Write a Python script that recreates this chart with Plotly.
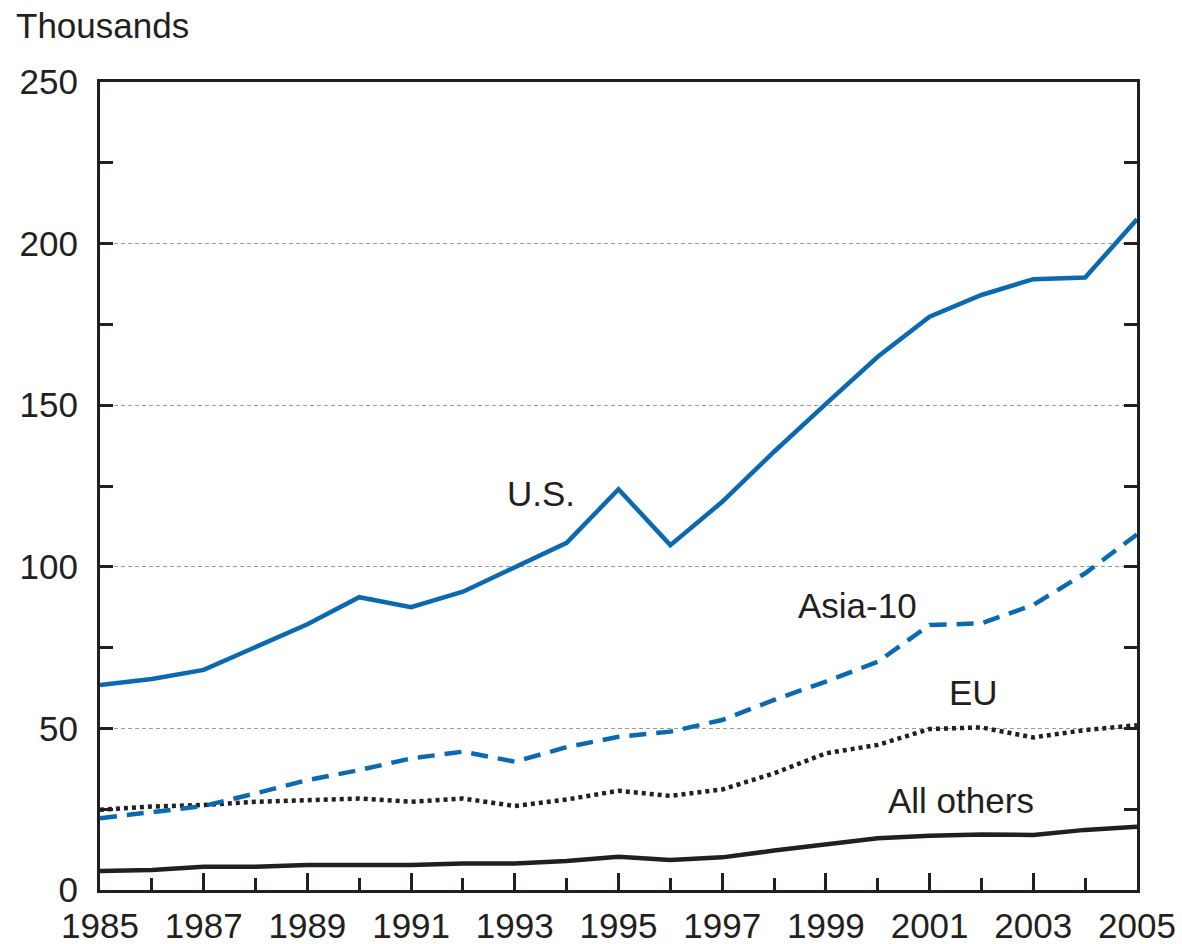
import plotly.graph_objects as go

years = list(range(1985, 2006))
us = [63.4, 65.3, 68.1, 75.3, 82.2, 90.6, 87.5, 92.3, 100.0, 107.4, 124.0,
      106.7, 120.1, 135.6, 150.4, 165.0, 177.4, 184.1, 189.0, 189.5, 207.5]
asia10 = [22.2, 24.2, 26.0, 29.9, 34.0, 37.1, 40.7, 42.8, 39.7, 44.2, 47.4,
          49.0, 52.6, 58.8, 64.5, 70.6, 82.0, 82.5, 88.2, 98.0, 110.0]
eu = [24.8, 25.8, 26.3, 27.3, 27.8, 28.3, 27.3, 28.3, 26.0, 28.0, 30.7,
      29.1, 31.1, 36.1, 42.3, 44.9, 49.8, 50.3, 47.2, 49.5, 51.0]
others = [5.9, 6.2, 7.2, 7.2, 7.7, 7.7, 7.7, 8.2, 8.2, 9.0, 10.3,
          9.3, 10.1, 12.2, 14.2, 16.0, 16.8, 17.2, 17.0, 18.6, 19.6]

labels = ["U.S.", "Asia-10", "EU", "All others"]
label_x = [1993.5, 1999.6, 2001.85, 2001.6]
label_y = [122.8, 87.9, 61.0, 27.8]

BLUE = "#0a69b1"
DARK = "#231f20"
FONT = "Liberation Sans, Arial, Helvetica, sans-serif"
FS = 35

fig = go.Figure()
fig.add_trace(go.Scatter(x=years, y=others, mode="lines",
                         line=dict(color=DARK, width=4.5), name="All others"))
fig.add_trace(go.Scatter(x=years, y=eu, mode="lines",
                         line=dict(color=DARK, width=4.5, dash="4px,4px"), name="EU"))
fig.add_trace(go.Scatter(x=years, y=asia10, mode="lines",
                         line=dict(color=BLUE, width=4.5, dash="17px,10px"), name="Asia-10"))
fig.add_trace(go.Scatter(x=years, y=us, mode="lines",
                         line=dict(color=BLUE, width=4.5), name="U.S."))

for t, x, y in zip(labels, label_x, label_y):
    fig.add_annotation(x=x, y=y, text=t, showarrow=False,
                       font=dict(size=FS, color=DARK, family=FONT),
                       xanchor="center", yanchor="middle")

fig.add_annotation(xref="paper", yref="paper", x=-0.083, y=1.097,
                   text="Thousands", showarrow=False,
                   font=dict(size=FS, color=DARK, family=FONT),
                   xanchor="left", yanchor="top")

fig.update_layout(
    width=1182, height=944,
    margin=dict(l=100, r=45, t=82, b=54, autoexpand=False),
    paper_bgcolor="white", plot_bgcolor="white",
    showlegend=False,
    font=dict(family=FONT, color=DARK, size=FS),
)
fig.update_xaxes(
    range=[1985, 2005], tick0=1985, dtick=2, automargin=False,
    showgrid=False, zeroline=False,
    showline=True, linecolor=DARK, linewidth=3, mirror=True,
    ticks="inside", ticklen=17, tickwidth=2.5, tickcolor=DARK,
    minor=dict(dtick=1, tick0=1985, ticks="inside", ticklen=12,
               tickwidth=2.5, tickcolor=DARK, showgrid=False),
    tickfont=dict(size=FS, color=DARK, family=FONT),
    ticklabelstandoff=3,
)
fig.update_yaxes(
    range=[0, 250], dtick=50, tick0=0, automargin=False,
    showgrid=True, gridcolor="#9a9a9a", gridwidth=1, griddash="4px,3px",
    zeroline=False,
    showline=True, linecolor=DARK, linewidth=3, mirror="allticks",
    ticks="inside", ticklen=13, tickwidth=2.5, tickcolor=DARK,
    minor=dict(dtick=25, tick0=0, ticks="inside", ticklen=13,
               tickwidth=2.5, tickcolor=DARK, showgrid=False),
    tickfont=dict(size=FS, color=DARK, family=FONT),
    ticklabelstandoff=12,
)

fig.write_html("out.html", config={"displayModeBar": False},
               post_script="document.body.style.margin='0px';document.body.style.padding='0px';")
